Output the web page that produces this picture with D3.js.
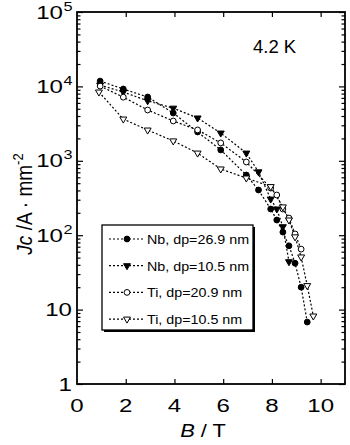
<!DOCTYPE html>
<html>
<head>
<meta charset="utf-8">
<script src="https://cdn.jsdelivr.net/npm/d3@7"></script>
<style>
  body { margin: 0; background: #fff; }
  svg { display: block; font-family: "Liberation Sans", Arial, Helvetica, sans-serif; }
</style>
</head>
<body>
<div id="chart"></div>
<script>
// magnetic field B (T) and critical current density Jc (A/mm^2) per sample
var fieldNb269 = [0.95, 1.9, 2.9, 3.95, 4.95, 5.9, 6.95, 7.45, 7.95, 8.2, 8.45, 8.7, 8.95, 9.2, 9.45];
var jcNb269    = [11800, 9230, 7200, 4390, 2440, 1400, 644, 405, 225, 160, 110, 72, 42, 20, 6.8];

var fieldNb105 = [0.95, 1.9, 2.9, 3.95, 4.95, 5.9, 6.95, 7.45, 7.95, 8.2, 8.45, 8.7];
var jcNb105    = [10400, 8400, 6400, 5100, 3760, 2360, 1270, 710, 306, 225, 130, 44];

var fieldTi209 = [0.95, 1.9, 2.9, 3.95, 4.95, 5.9, 6.95, 7.95, 8.2, 8.45, 8.7, 8.95, 9.2];
var jcTi209    = [10100, 7170, 4820, 3430, 2600, 1740, 964, 430, 347, 225, 170, 104, 65];

var fieldTi105 = [0.9, 1.9, 2.9, 3.95, 4.95, 5.9, 6.95, 7.95, 8.45, 8.7, 8.95, 9.2, 9.45, 9.7];
var jcTi105    = [8400, 3640, 2590, 1850, 1270, 776, 587, 450, 240, 160, 95, 51, 21, 8.2];

var seriesNames = ["Nb, dp=26.9 nm", "Nb, dp=10.5 nm", "Ti, dp=20.9 nm", "Ti, dp=10.5 nm"];
var xTicks = [0, 2, 4, 6, 8, 10];
var yExponents = [0, 1, 2, 3, 4, 5];

var series = [
  {name: seriesNames[0], b: fieldNb269, jc: jcNb269, shape: "circle", filled: true},
  {name: seriesNames[1], b: fieldNb105, jc: jcNb105, shape: "triangle", filled: true},
  {name: seriesNames[2], b: fieldTi209, jc: jcTi209, shape: "circle", filled: false},
  {name: seriesNames[3], b: fieldTi105, jc: jcTi105, shape: "triangle", filled: false}
];

var W = 350, H = 445;
var plotL = 77, plotR = 345, plotT = 12, plotB = 384;
var wide = 1.3; // horizontal stretch of the tick numerals

var svg = d3.select("#chart").append("svg")
    .attr("width", W)
    .attr("height", H);

var x = d3.scaleLinear().domain([0, 11]).range([plotL, plotR]);
var y = d3.scaleLog().domain([1, 1e5]).range([plotB, plotT]);

// minor log ticks 2..9 in each decade
var minor = [];
for (var e = 0; e < 5; e++) {
  for (var m = 2; m <= 9; m++) minor.push(m * Math.pow(10, e));
}
var major = yExponents.map(function(p) { return Math.pow(10, p); });
var xMajor = xTicks.filter(function(v) { return v > 0; });

function tickAxis(axis, tx, ty) {
  var g = svg.append("g")
      .attr("transform", "translate(" + tx + "," + ty + ")")
      .call(axis);
  g.select(".domain").remove();
  g.selectAll("line").attr("stroke", "#000").attr("stroke-width", 1.2);
  g.selectAll("text").remove();
}

// inward ticks on all four sides
tickAxis(d3.axisLeft(y).tickValues(minor).tickSize(-3.5).tickFormat(""), plotL, 0);
tickAxis(d3.axisLeft(y).tickValues(major).tickSize(-6).tickFormat(""), plotL, 0);
tickAxis(d3.axisRight(y).tickValues(minor).tickSize(-3.5).tickFormat(""), plotR, 0);
tickAxis(d3.axisRight(y).tickValues(major).tickSize(-6).tickFormat(""), plotR, 0);
tickAxis(d3.axisBottom(x).tickValues(xMajor).tickSize(-5).tickFormat(""), 0, plotB);
tickAxis(d3.axisTop(x).tickValues(xMajor).tickSize(-5).tickFormat(""), 0, plotT);

// frame
svg.append("rect")
    .attr("x", plotL).attr("y", plotT)
    .attr("width", plotR - plotL).attr("height", plotB - plotT)
    .attr("fill", "none").attr("stroke", "#000").attr("stroke-width", 1.8);

// y tick labels: 1, 10, 10^2 ...
yExponents.forEach(function(p) {
  var ty = y(Math.pow(10, p)) + 6.5;
  var t = svg.append("text")
      .attr("text-anchor", "end")
      .attr("font-size", 18.5);
  if (p <= 1) {
    t.attr("transform", "translate(72," + ty + ") scale(" + wide + ",1)")
      .text(p === 0 ? "1" : "10");
  } else {
    t.attr("transform", "translate(63," + ty + ") scale(" + wide + ",1)").text("10");
    svg.append("text")
        .attr("transform", "translate(63.5," + (ty - 8) + ") scale(" + wide + ",1)")
        .attr("font-size", 12.5)
        .text(p);
  }
});

// x tick labels
svg.append("g").selectAll("text")
  .data(xTicks)
  .enter().append("text")
    .attr("transform", function(d) { return "translate(" + x(d) + ",412) scale(" + wide + ",1)"; })
    .attr("text-anchor", "middle")
    .attr("font-size", 18.5)
    .text(function(d) { return d; });

// axis titles
var xt = svg.append("text")
    .attr("transform", "translate(203,437) scale(1.15,1)")
    .attr("text-anchor", "middle")
    .attr("font-size", 19);
xt.append("tspan").attr("font-style", "italic").text("B");
xt.append("tspan").text(" / T");

var yt = svg.append("text")
    .attr("transform", "translate(32,204) rotate(-90) scale(1,1.15)")
    .attr("text-anchor", "middle")
    .attr("font-size", 19);
yt.append("tspan").attr("font-style", "italic").text("Jc");
yt.append("tspan").text(" /A \u00b7 mm");
yt.append("tspan").attr("font-size", 13).attr("dy", -8).text("-2");

svg.append("text")
    .attr("x", 253).attr("y", 53)
    .attr("font-size", 18.5)
    .text("4.2 K");

// markers
var triDown = d3.symbol().type(d3.symbolTriangle).size(21);
function drawMarker(g, s, cx, cy) {
  if (s.shape === "circle") {
    g.append("circle")
        .attr("cx", cx).attr("cy", cy).attr("r", 2.9)
        .attr("fill", s.filled ? "#000" : "#fff")
        .attr("stroke", "#000").attr("stroke-width", 1);
  } else {
    g.append("path")
        .attr("d", triDown())
        .attr("transform", "translate(" + cx + "," + cy + ") rotate(180)")
        .attr("fill", s.filled ? "#000" : "#fff")
        .attr("stroke", "#000").attr("stroke-width", 1);
  }
}

var line = d3.line()
    .x(function(d) { return x(d[0]); })
    .y(function(d) { return y(d[1]); });

series.forEach(function(s) {
  var pts = s.b.map(function(b, i) { return [b, s.jc[i]]; });
  svg.append("path")
      .datum(pts)
      .attr("d", line)
      .attr("fill", "none")
      .attr("stroke", "#000")
      .attr("stroke-width", 1.2)
      .attr("stroke-dasharray", "2,2");
});
series.forEach(function(s) {
  var g = svg.append("g");
  s.b.forEach(function(b, i) { drawMarker(g, s, x(b), y(s.jc[i])); });
});

// legend with drop shadow
var lg = svg.append("g");
lg.append("rect")
    .attr("x", 104).attr("y", 227).attr("width", 151).attr("height", 105)
    .attr("fill", "#000");
lg.append("rect")
    .attr("x", 102).attr("y", 225).attr("width", 151).attr("height", 105)
    .attr("fill", "#fff").attr("stroke", "#000").attr("stroke-width", 1.3);

series.forEach(function(s, i) {
  var ly = 239 + i * 26.7;
  lg.append("line")
      .attr("x1", 109).attr("x2", 143).attr("y1", ly).attr("y2", ly)
      .attr("stroke", "#000").attr("stroke-width", 1.2)
      .attr("stroke-dasharray", "2,2");
  drawMarker(lg, s, 127, ly);
  lg.append("text")
      .attr("transform", "translate(147," + (ly + 5) + ") scale(1.1,1)")
      .attr("font-size", 13)
      .text(s.name);
});
</script>
</body>
</html>
